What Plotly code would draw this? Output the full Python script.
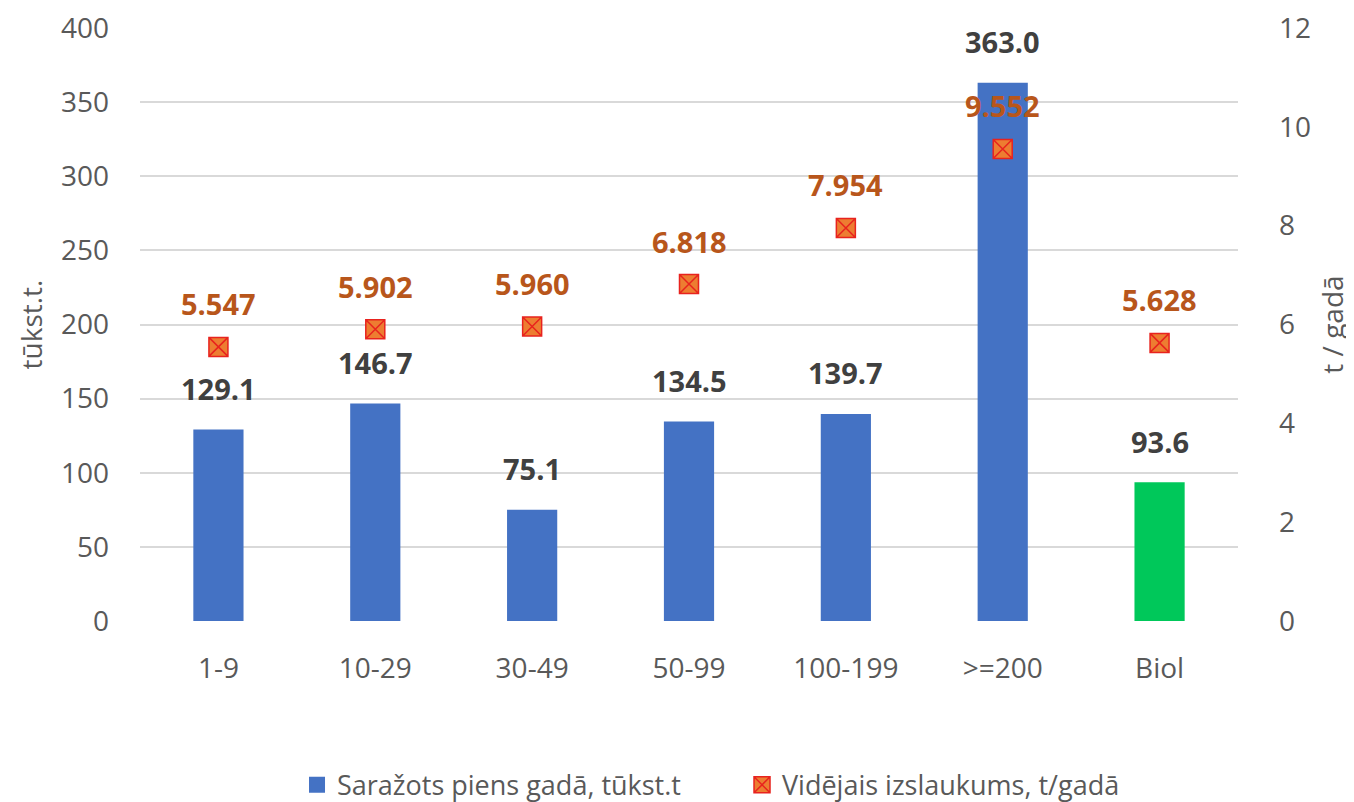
import plotly.graph_objects as go

categories = ["1-9", "10-29", "30-49", "50-99", "100-199", ">=200", "Biol"]
milk_produced = [129.1, 146.7, 75.1, 134.5, 139.7, 363.0, 93.6]
avg_yield = [5.547, 5.902, 5.960, 6.818, 7.954, 9.552, 5.628]
left_ticks = [0, 50, 100, 150, 200, 250, 300, 350, 400]
right_ticks = [0, 2, 4, 6, 8, 10, 12]

bar_colors = ["#4472C4"] * 6 + ["#00C85A"]
FONT = "Open Sans"
TICK_COLOR = "#595959"

fig = go.Figure()
fig.add_trace(go.Bar(
    x=categories, y=milk_produced, name="Saražots piens gadā, tūkst.t",
    marker=dict(color=bar_colors, line=dict(width=0)), yaxis="y",
    showlegend=False,
))
# legend-only entry for the bars (larger square swatch)
fig.add_trace(go.Scatter(
    x=[None], y=[None], name="Saražots piens gadā, tūkst.t", mode="markers",
    marker=dict(symbol="square", size=19, color="#4472C4"), yaxis="y",
))
fig.add_trace(go.Scatter(
    x=categories, y=avg_yield, name="Vidējais izslaukums, t/gadā",
    mode="markers", yaxis="y2",
    marker=dict(symbol="square-x", size=19, color="#ED7D31",
                line=dict(color="#E8231E", width=1.5)),
))

for c, v in zip(categories, milk_produced):
    fig.add_annotation(x=c, y=v, yref="y", text=f"<b>{v:.1f}</b>", showarrow=False,
                       yshift=41, font=dict(family=FONT, size=29, color="#404040"))
for c, v in zip(categories, avg_yield):
    fig.add_annotation(x=c, y=v, yref="y2", text=f"<b>{v:.3f}</b>", showarrow=False,
                       yshift=43, font=dict(family=FONT, size=29, color="#B8561B"))

fig.update_layout(
    width=1354, height=802,
    margin=dict(l=132, r=124, t=20, b=189, autoexpand=False),
    paper_bgcolor="white", plot_bgcolor="white",
    font=dict(family=FONT, size=28, color=TICK_COLOR),
    bargap=0.68,
    showlegend=True,
    legend=dict(orientation="h", x=0.143, xanchor="left", y=-0.277, yanchor="middle",
                font=dict(family=FONT, size=27, color=TICK_COLOR), itemwidth=30,
                entrywidth=400, entrywidthmode="pixels",
                traceorder="normal"),
    xaxis=dict(showgrid=False, showline=False, ticks="", ticklabelstandoff=28,
               tickfont=dict(family=FONT, size=28, color=TICK_COLOR)),
    yaxis=dict(range=[0, 400], tickvals=left_ticks, showgrid=True, gridcolor="#D9D9D9",
               gridwidth=1.5, zeroline=False, showline=False, ticks="",
               ticklabelstandoff=30, ticklabeloverflow="allow",
               tickfont=dict(family=FONT, size=28, color=TICK_COLOR),
               title=dict(text="tūkst.t.", font=dict(family=FONT, size=28, color=TICK_COLOR),
                          standoff=10)),
    yaxis2=dict(range=[0, 12], tickvals=right_ticks, overlaying="y", side="right",
                showgrid=False, zeroline=False, showline=False, ticks="",
                ticklabelstandoff=40, ticklabeloverflow="allow",
                tickfont=dict(family=FONT, size=28, color=TICK_COLOR),
                title=dict(text="t / gadā", font=dict(family=FONT, size=28, color=TICK_COLOR),
                           standoff=13)),
)

fig.write_html("out.html")
